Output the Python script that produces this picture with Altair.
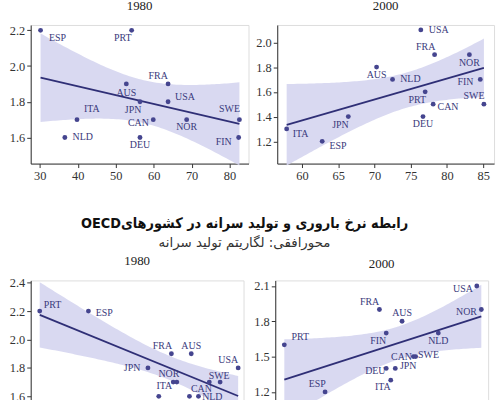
import altair as alt
import numpy as np
import pandas as pd

# ---------------- data ----------------
countries = ["AUS", "CAN", "DEU", "ESP", "FIN", "FRA", "ITA", "JPN", "NLD", "NOR", "PRT", "SWE", "USA"]
fert_1980 = [1.9, 1.7, 1.6, 2.2, 1.6, 1.9, 1.7, 1.8, 1.6, 1.7, 2.2, 1.7, 1.8]
fert_2000 = [1.8, 1.5, 1.4, 1.2, 1.7, 1.9, 1.3, 1.4, 1.7, 1.9, 1.6, 1.5, 2.1]
# top row x values
top_x_1980 = [52.8, 59.9, 56.4, 30.2, 82.4, 63.8, 39.8, 56.4, 36.6, 68.7, 54.2, 82.6, 63.8]
top_x_2000 = [70.3, 78.1, 76.7, 62.8, 84.6, 78.3, 57.9, 66.4, 72.5, 83.1, 77.0, 85.1, 76.4]
# bottom row x values: log of GDP per capita
lgdp_1980 = [10.04, 10.14, 10.03, 9.47, 9.86, 9.93, 9.94, 9.80, 10.08, 9.96, 9.20, 10.20, 10.30]
lgdp_2000 = [10.32, 10.37, 10.25, 9.98, 10.25, 10.22, 10.27, 10.29, 10.48, 10.67, 9.80, 10.38, 10.65]

main_title = "رابطه نرخ باروری و تولید سرانه در کشورهایOECD"
sub_title = "محورافقی: لگاریتم تولید سرانه"

# ---------------- label placement (pixel offsets, styling only) ----------------
off_tl = {"ESP": (17, 8), "PRT": (-9, 8), "AUS": (0, 9), "FRA": (-10, -8), "USA": (17, -5),
          "JPN": (-7, 8), "ITA": (15, -11), "CAN": (-15, 3), "NOR": (0, 7), "SWE": (-10, -11),
          "NLD": (18, 0), "DEU": (0, 8), "FIN": (-15, 5)}
off_tr = {"USA": (18, 0), "FRA": (-9, -8), "NOR": (0, 8), "AUS": (0, 8), "NLD": (18, 0),
          "FIN": (-15, 3), "PRT": (-8, 8), "CAN": (15, 3), "SWE": (-10, -8), "JPN": (-8, 9),
          "DEU": (0, 8), "ITA": (14, 5), "ESP": (16, 5)}
off_bl = {"PRT": (13, -6), "ESP": (16, 2), "FRA": (-9, -8), "AUS": (0, -8), "USA": (-10, -8),
          "JPN": (-16, 0), "NOR": (-8, -8), "ITA": (-9, 4), "SWE": (-1, -6), "CAN": (-8, 7),
          "NLD": (14, 1), "DEU": (0, 8), "FIN": (0, 8)}
off_br = {"USA": (-14, 3), "NOR": (-15, 3), "FRA": (-10, -8), "AUS": (0, -8), "FIN": (-8, 8),
          "NLD": (0, 8), "PRT": (16, -8), "CAN": (-12, 0), "SWE": (13, -2), "DEU": (-11, 3),
          "JPN": (13, -2), "ITA": (-8, 7), "ESP": (-8, -8)}

SERIF = "Liberation Serif"
SANS = "DejaVu Sans Condensed"
PT = "#45458f"
LINE = "#2f2f76"
BAND = "#d5d5ef"
LBL = "#3a3a7c"
T_975_DF11 = 2.201


def panel(xv, yv, offs, title, xdom, xticks, ydom, yticks, w, h, min_ext, t_off):
    df = pd.DataFrame({
        "country": countries, "x": xv, "y": yv,
        "dx": [offs[c][0] for c in countries],
        "dy": [offs[c][1] for c in countries],
    })
    x = np.asarray(xv, float)
    y = np.asarray(yv, float)
    n = len(x)
    b, a = np.polyfit(x, y, 1)
    resid = y - (a + b * x)
    s = np.sqrt(np.sum(resid ** 2) / (n - 2))
    grid = np.linspace(x.min(), x.max(), 80)
    se = s * np.sqrt(1.0 / n + (grid - x.mean()) ** 2 / np.sum((x - x.mean()) ** 2))
    fit = a + b * grid
    band = pd.DataFrame({"x": grid, "lo": fit - T_975_DF11 * se, "hi": fit + T_975_DF11 * se})

    xs = alt.Scale(domain=xdom, nice=False, zero=False)
    ys = alt.Scale(domain=ydom, nice=False, zero=False)
    xaxis = alt.Axis(values=xticks, title=None, grid=False, tickSize=4, labelPadding=2,
                     labelFont=SERIF, labelFontSize=12.5, labelColor="#333",
                     domainColor="#333", tickColor="#333", labelFlush=False,
                     labelOverlap=False)
    yaxis = alt.Axis(values=yticks, title=None, grid=False, tickSize=4, labelPadding=2,
                     labelFont=SERIF, labelFontSize=12.5, labelColor="#333",
                     domainColor="#333", tickColor="#333", minExtent=min_ext, format=".1f",
                     labelOverlap=False, labelFlush=False)
    X = lambda f: alt.X(f, scale=xs, axis=xaxis)
    Y = lambda f: alt.Y(f, scale=ys, axis=yaxis)

    area = alt.Chart(band).mark_area(color=BAND, opacity=0.9).encode(
        x=X("x:Q"), y=Y("lo:Q"), y2="hi:Q")
    line = alt.Chart(df).transform_regression("x", "y").mark_line(
        color=LINE, strokeWidth=1.8).encode(x=X("x:Q"), y=Y("y:Q"))
    pts = alt.Chart(df).mark_circle(size=24, color=PT, opacity=1).encode(
        x=X("x:Q"), y=Y("y:Q"))
    labels = alt.Chart(df).mark_text(
        font=SERIF, fontSize=10, color=LBL,
        dx=alt.ExprRef(expr="datum.dx"), dy=alt.ExprRef(expr="datum.dy"),
    ).encode(x=X("x:Q"), y=Y("y:Q"), text="country:N")

    return alt.layer(area, line, pts, labels).properties(
        width=w, height=h,
        title=alt.TitleParams(title, font=SERIF, fontSize=13, fontWeight="normal",
                              color="#222", anchor="middle", offset=t_off),
    )


tl = panel(top_x_1980, fert_1980, off_tl, "1980", [27.6, 85], [30, 40, 50, 60, 70, 80],
           [1.454, 2.23], [1.6, 1.8, 2.0, 2.2], 220, 140, 25, 12)
tr = panel(top_x_2000, fert_2000, off_tr, "2000", [56.6, 86.5], [60, 65, 70, 75, 80, 85],
           [1.02, 2.14], [1.2, 1.4, 1.6, 1.8, 2.0], 219, 140, 21, 12)
bl = panel(lgdp_1980, fert_1980, off_bl, "1980", [9.15, 10.33], [9.2, 9.6, 10.0],
           [1.44, 2.416], [1.6, 1.8, 2.0, 2.2, 2.4], 215, 140, 30, 9)
br = panel(lgdp_2000, fert_2000, off_br, "2000", [9.76, 10.70], [9.8, 10.2, 10.6],
           [0.97, 2.147], [1.2, 1.5, 1.8, 2.1], 215, 140, 25, 9)

top_row = alt.hconcat(tl, tr, spacing=5)
bottom_row = alt.hconcat(bl, br, spacing=5).properties(
    title=alt.TitleParams(
        "\u202b" + main_title + "\u202c",
        subtitle=["\u202b" + sub_title + "\u202c"],
        font=SANS, fontSize=14.5, fontWeight="bold", color="#111",
        subtitleFont="DejaVu Sans", subtitleFontSize=13.5, subtitleColor="#333",
        subtitlePadding=5, anchor="middle", offset=4,
    )
)

chart = alt.vconcat(top_row, bottom_row, spacing=33).properties(
    padding={"left": 0, "top": -4, "right": 5, "bottom": 5}
).configure_view(stroke=None).configure_axis(labelOverlap=False).configure(background="white")

chart.save("out.html", embed_options={"renderer": "svg", "actions": False})
